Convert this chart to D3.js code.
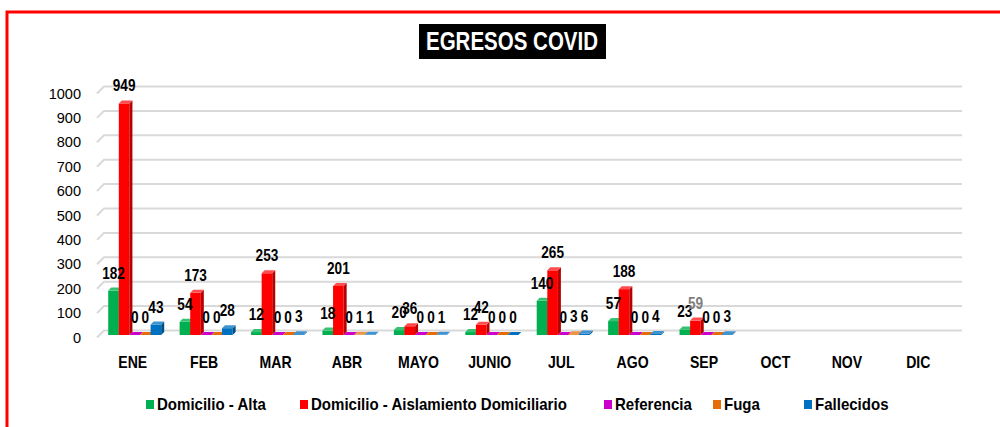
<!DOCTYPE html>
<html>
<head>
<meta charset="utf-8">
<script src="https://cdn.jsdelivr.net/npm/d3@7/dist/d3.min.js"></script>
<style>
  html, body { margin: 0; padding: 0; background: #fff; }
  svg { display: block; }
</style>
</head>
<body>
<svg id="chart" width="1000" height="427"></svg>
<script>
// ---------------- DATA ----------------
const months = ["ENE","FEB","MAR","ABR","MAYO","JUNIO","JUL","AGO","SEP","OCT","NOV","DIC"];
const seriesNames = ["Domicilio - Alta","Domicilio - Aislamiento Domiciliario","Referencia","Fuga","Fallecidos"];
const domicilioAlta   = [182, 54, 12, 18, 20, 12, 140, 57, 23, null, null, null];
const aislamiento     = [949, 173, 253, 201, 36, 42, 265, 188, 59, null, null, null];
const referencia      = [0, 0, 0, 0, 0, 0, 0, 0, 0, null, null, null];
const fuga            = [0, 0, 0, 1, 0, 0, 3, 0, 0, null, null, null];
const fallecidos      = [43, 28, 3, 1, 1, 0, 6, 4, 3, null, null, null];
const yTicks = [0,100,200,300,400,500,600,700,800,900,1000];
const title = "EGRESOS COVID";

const seriesValues = [domicilioAlta, aislamiento, referencia, fuga, fallecidos];
const colors = ["#00B050","#FF0000","#CC00CC","#E46C0A","#0070C0"];
const sideColors = ["#00803a","#b80000","#8f008f","#a34d07","#004f88"];
const topColors = ["#33c373","#ff4d4d","#dd4ddd","#ec9447","#3f93d0"];

const SANS = "'Liberation Sans',Arial,Helvetica,sans-serif";

const svg = d3.select("#chart");

// condensed text helper
function ctext(sel, x, y, str, opts) {
  const t = sel.append("text")
    .attr("transform", `translate(${x},${y}) scale(${opts.sx || 1},1)`)
    .attr("x", 0).attr("y", 0)
    .attr("text-anchor", opts.anchor || "middle")
    .attr("font-family", SANS)
    .attr("font-weight", opts.bold ? "bold" : "normal")
    .attr("font-size", opts.size)
    .attr("fill", opts.fill || "#000")
    .text(str);
  return t;
}

// frame
svg.append("rect").attr("x", 7).attr("y", 12).attr("width", 1010).attr("height", 440)
  .attr("fill", "none").attr("stroke", "#FF0000").attr("stroke-width", 3);

// title
svg.append("rect").attr("x", 419).attr("y", 24).attr("width", 187).attr("height", 35).attr("fill", "#000");
ctext(svg, 512, 50, title, { bold: true, size: 25, sx: 0.82, fill: "#fff" });

// scales
const x0 = d3.scaleBand().domain(months).range([97, 954]).paddingInner(0).paddingOuter(0);
const y = d3.scaleLinear().domain([0, 1000]).range([337.5, 93.5]);
const DX = 7, DY = -7;          // back wall offset
const bw = 10.6;               // bar width
const bd = 3;                  // bar depth
const bshiftX = 2, bshiftY = -2.5;

// gridlines (back wall + floor diagonal)
const grid = svg.append("g");
yTicks.forEach(t => {
  const yf = y(t);
  grid.append("path")
    .attr("d", `M97,${yf} L${97 + DX},${yf + DY} L962,${yf + DY}`)
    .attr("fill", "none").attr("stroke", "#d9d9d9").attr("stroke-width", 2);
});

// y labels
const yl = svg.append("g");
yTicks.forEach(t => ctext(yl, 81, y(t) + 5, t, { size: 15, sx: 0.97, anchor: "end" }));

// x labels
const xl = svg.append("g");
months.forEach(m => ctext(xl, x0(m) + x0.bandwidth() / 2, 368, m, { bold: true, size: 16, sx: 0.88 }));

// bars
const x1 = d3.scaleBand().domain(d3.range(seriesNames.length)).range([0, bw * seriesNames.length]);
const groupOffset = (x0.bandwidth() - bw * seriesNames.length) / 2;

const bars = svg.append("g");
const labels = svg.append("g");
months.forEach((m, i) => {
  seriesValues.forEach((vals, s) => {
    const v = vals[i];
    if (v === null || v === undefined) return;
    const xL = x0(m) + groupOffset + x1(s) + bshiftX;
    const xR = xL + bw;
    const base = y(0) + bshiftY;
    const top = y(v) + bshiftY;
    const g = bars.append("g");
    if (v > 0) {
      g.append("rect").attr("x", xL).attr("y", top).attr("width", bw).attr("height", base - top)
        .attr("fill", colors[s]);
      g.append("path")
        .attr("d", `M${xR},${top} L${xR + bd},${top - bd} L${xR + bd},${base - bd} L${xR},${base} Z`)
        .attr("fill", sideColors[s]);
    }
    g.append("path")
      .attr("d", `M${xL},${top} L${xL + bd},${top - bd} L${xR + bd},${top - bd} L${xR},${top} Z`)
      .attr("fill", v > 0 ? topColors[s] : colors[s]);
    ctext(labels, (xL + xR) / 2, top - 12, v, {
      bold: true, size: 16, sx: 0.85,
      fill: (m === "SEP" && s === 1) ? "#7f7f7f" : "#000"
    });
  });
});

// legend
const legendX = [146, 300, 604, 713, 804];
const legend = svg.append("g");
seriesNames.forEach((n, s) => {
  legend.append("rect").attr("x", legendX[s]).attr("y", 400).attr("width", 8).attr("height", 9).attr("fill", colors[s]);
  ctext(legend, legendX[s] + 11, 410, n, { bold: true, size: 16, sx: 0.94, anchor: "start" });
});
</script>
</body>
</html>
